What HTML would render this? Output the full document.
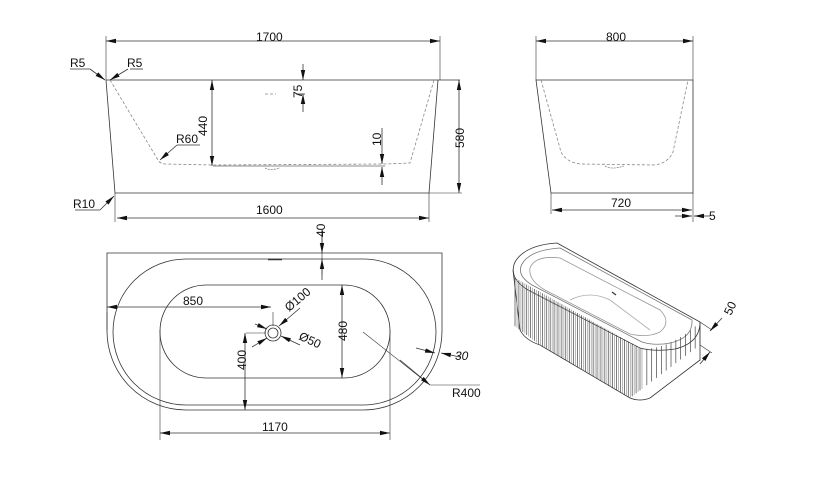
<!DOCTYPE html>
<html><head><meta charset="utf-8"><style>
html,body{margin:0;padding:0;background:#fff;}
svg{display:block;font-family:"Liberation Sans",Arial,sans-serif;}
text{font-size:12px;fill:#111;}
</style></head><body>
<svg id="s" width="826" height="500" viewBox="0 0 826 500" xmlns="http://www.w3.org/2000/svg">
<defs>
<marker id="a" markerWidth="10" markerHeight="6" refX="10" refY="3" orient="auto" markerUnits="userSpaceOnUse"><path d="M0,0.8 L10,3 L0,5.2 Z" fill="#111"/></marker>
<marker id="b" markerWidth="10" markerHeight="6" refX="0" refY="3" orient="auto" markerUnits="userSpaceOnUse"><path d="M10,0.8 L0,3 L10,5.2 Z" fill="#111"/></marker>
</defs>
<g stroke="#333" stroke-width="0.8" fill="none">
<!-- FRONT VIEW -->
<path d="M106,80 H460 M106,80 L115,193 H429 L438,80"/>
<path d="M106,80 V36 M440,80 V36 M115,193 V222 M429,193 V222" stroke-width="0.6"/>
<line x1="106" y1="41" x2="440" y2="41" marker-start="url(#b)" marker-end="url(#a)"/>
<line x1="117" y1="218" x2="429" y2="218" marker-start="url(#b)" marker-end="url(#a)"/>
<line x1="459" y1="80" x2="459" y2="193" marker-start="url(#b)" marker-end="url(#a)"/>
<path d="M429,193 H462" stroke-width="0.6"/>
<line x1="212" y1="80" x2="212" y2="166" marker-start="url(#b)" marker-end="url(#a)"/>
<path d="M110,80 L158,160 Q160,164 166,164 L213,165 L385,164 L410,163 L434,80" stroke="#888" stroke-dasharray="3,2"/>
<path d="M213,166 H385" stroke="#666"/>
<path d="M265,168 Q270,171 280,168" stroke="#888" stroke-dasharray="2,1"/>
<path d="M265,94 H276" stroke="#888" stroke-dasharray="3,2"/>
<path d="M296,94 H305"/>
<line x1="303" y1="64" x2="303" y2="80" marker-end="url(#a)"/>
<line x1="303" y1="112" x2="303" y2="94" marker-end="url(#a)"/>
<line x1="382" y1="128" x2="382" y2="164" marker-end="url(#a)"/>
<line x1="382" y1="185" x2="382" y2="167" marker-end="url(#a)"/>
<path d="M70,69 H90"/><path d="M130,69 H143"/>
<line x1="90" y1="69" x2="105" y2="80" marker-end="url(#a)"/>
<line x1="128" y1="69" x2="110" y2="80" marker-end="url(#a)"/>
<path d="M200,145 H177"/>
<line x1="177" y1="145" x2="160" y2="160" marker-end="url(#a)"/>
<path d="M75,210 H100"/>
<line x1="100" y1="210" x2="114" y2="196" marker-end="url(#a)"/>
<!-- SIDE VIEW -->
<path d="M536,80 H693 V193 H551 Z"/>
<path d="M536,80 V36 M693,80 V36 M551,193 V214 M693,193 V222" stroke-width="0.6"/>
<line x1="536" y1="41" x2="693" y2="41" marker-start="url(#b)" marker-end="url(#a)"/>
<line x1="552" y1="210" x2="692" y2="210" marker-start="url(#b)" marker-end="url(#a)"/>
<line x1="675" y1="216" x2="692" y2="216" marker-end="url(#a)"/>
<line x1="710" y1="216" x2="694" y2="216" marker-end="url(#a)"/>
<path d="M541,80 L561,152 Q566,162 580,164 L655,165 Q668,163 673,152 L688,80" stroke="#888" stroke-dasharray="3,2"/>
<path d="M605,166 Q612,170 624,166" stroke="#888" stroke-dasharray="2,1"/>
<!-- TOP VIEW -->
<path d="M107,253 H442 V330 A79,79 0 0 1 363,410 H186 A79,79 0 0 1 107,330 Z"/>
<rect x="113" y="259" width="323" height="146" rx="73" ry="73"/>
<rect x="160" y="285" width="230" height="93" rx="46" ry="46"/>
<path d="M268,259.5 H282" stroke-width="1.5"/>
<circle cx="273" cy="333" r="8"/><circle cx="273" cy="333" r="5"/>
<path d="M107,330 V312 M160,330 V440 M390,330 V440 M273,312 V326 M246,333 H266 M322,230 V275" stroke-width="0.6"/>
<line x1="107" y1="307" x2="271" y2="307" marker-start="url(#b)" marker-end="url(#a)"/>
<line x1="160" y1="433" x2="390" y2="433" marker-start="url(#b)" marker-end="url(#a)"/>
<line x1="342" y1="285" x2="342" y2="378" marker-start="url(#b)" marker-end="url(#a)"/>
<line x1="245" y1="333" x2="245" y2="410" marker-start="url(#b)" marker-end="url(#a)"/>
<line x1="322" y1="230" x2="322" y2="253" marker-end="url(#a)"/>
<line x1="322" y1="280" x2="322" y2="259" marker-end="url(#a)"/>
<line x1="300" y1="308" x2="279" y2="326" marker-end="url(#a)"/>
<line x1="252" y1="347" x2="267" y2="338" marker-end="url(#a)"/>
<line x1="255" y1="324" x2="267" y2="329" marker-end="url(#a)"/>
<line x1="300" y1="345" x2="281" y2="336" marker-end="url(#a)"/>
<path d="M363,332 L430,385 H480" stroke-width="0.6"/>
<line x1="400" y1="360" x2="430" y2="385" marker-end="url(#a)"/>
<line x1="416" y1="348" x2="435" y2="353" marker-end="url(#a)"/>
<line x1="460" y1="357" x2="441" y2="353" marker-end="url(#a)"/>
<!-- 3D VIEW -->
<path d="M557,243 L700,322 Q700,343 675,349 Q655,352 640,348 L528,290 Q508,278 515,262 Q525,245 557,243 Z"/>
<path d="M560,248 L692,320 Q693,338 670,343 Q655,346 642,342 L532,285 Q516,275 522,264 Q530,250 560,248 Z" stroke="#777"/>
<path d="M530,268 Q535,255 560,258 L660,310 Q672,322 660,332 Q648,338 630,334 L545,290 Q528,280 530,268 Z" stroke="#999"/>
<path d="M570,300 Q590,290 610,300 L650,330" stroke="#aaa"/>
<path d="M513,270 L520,330 Q525,340 540,345 L630,398 Q640,402 650,398 L700,360 L700,322"/>
<path d="M700,322 L712,330 M700,345 L712,353" stroke-width="0.6"/>
<line x1="722" y1="318" x2="710" y2="331" marker-end="url(#a)"/>
<line x1="700" y1="364" x2="710" y2="352" marker-end="url(#a)"/>
<g id="ribs" stroke="#444" stroke-width="0.7"></g>
<path d="M612,292 L616,295" stroke-width="1.2"/>
</g>
<text x="256" y="41" >1700</text>
<text x="256" y="214">1600</text>
<text x="606" y="41">800</text>
<text x="611" y="207">720</text>
<text x="709" y="220">5</text>
<text x="70" y="67">R5</text>
<text x="127" y="67">R5</text>
<text x="176" y="143">R60</text>
<text x="73" y="208">R10</text>
<text transform="translate(207,136) rotate(-90)">440</text>
<text transform="translate(464,148) rotate(-90)">580</text>
<text transform="translate(302,98) rotate(-90)">75</text>
<text transform="translate(381,146) rotate(-90)">10</text>
<text transform="translate(325,237) rotate(-90)">40</text>
<text x="183" y="305">850</text>
<text x="262" y="431">1170</text>
<text transform="translate(347,341) rotate(-90)">480</text>
<text transform="translate(246,370) rotate(-90)">400</text>
<text transform="translate(289,312) rotate(-40)">Ø100</text>
<text transform="translate(298,339) rotate(25)">Ø50</text>
<text x="455" y="360" font-style="italic">30</text>
<text x="452" y="397">R400</text>
<text transform="translate(731,316) rotate(-65)">50</text>
</svg>
<script>
var g=document.getElementById('ribs'),s='';
function bot(x){ if(x<540) return 330+(x-520)*0.75; if(x<=630) return 345+(x-540)*53/90; return 398-(x-630)*0.76;}
for(var i=0;i<=32;i++){var t=i/32;
var x1=515+125*t,y1=278+70*t;
s+='<line x1="'+x1+'" y1="'+y1+'" x2="'+x1+'" y2="'+bot(x1)+'"/>';
s+='<line x1="'+(x1+2)+'" y1="'+(y1+1)+'" x2="'+(x1+2)+'" y2="'+bot(x1+2)+'" stroke="#999"/>';}
for(var j=1;j<=12;j++){var u=j/12;var x=642+58*u,yt=349-27*u*u;
s+='<line x1="'+x+'" y1="'+yt+'" x2="'+x+'" y2="'+bot(x)+'"/>';}
g.innerHTML=s;
</script>
</body></html>
